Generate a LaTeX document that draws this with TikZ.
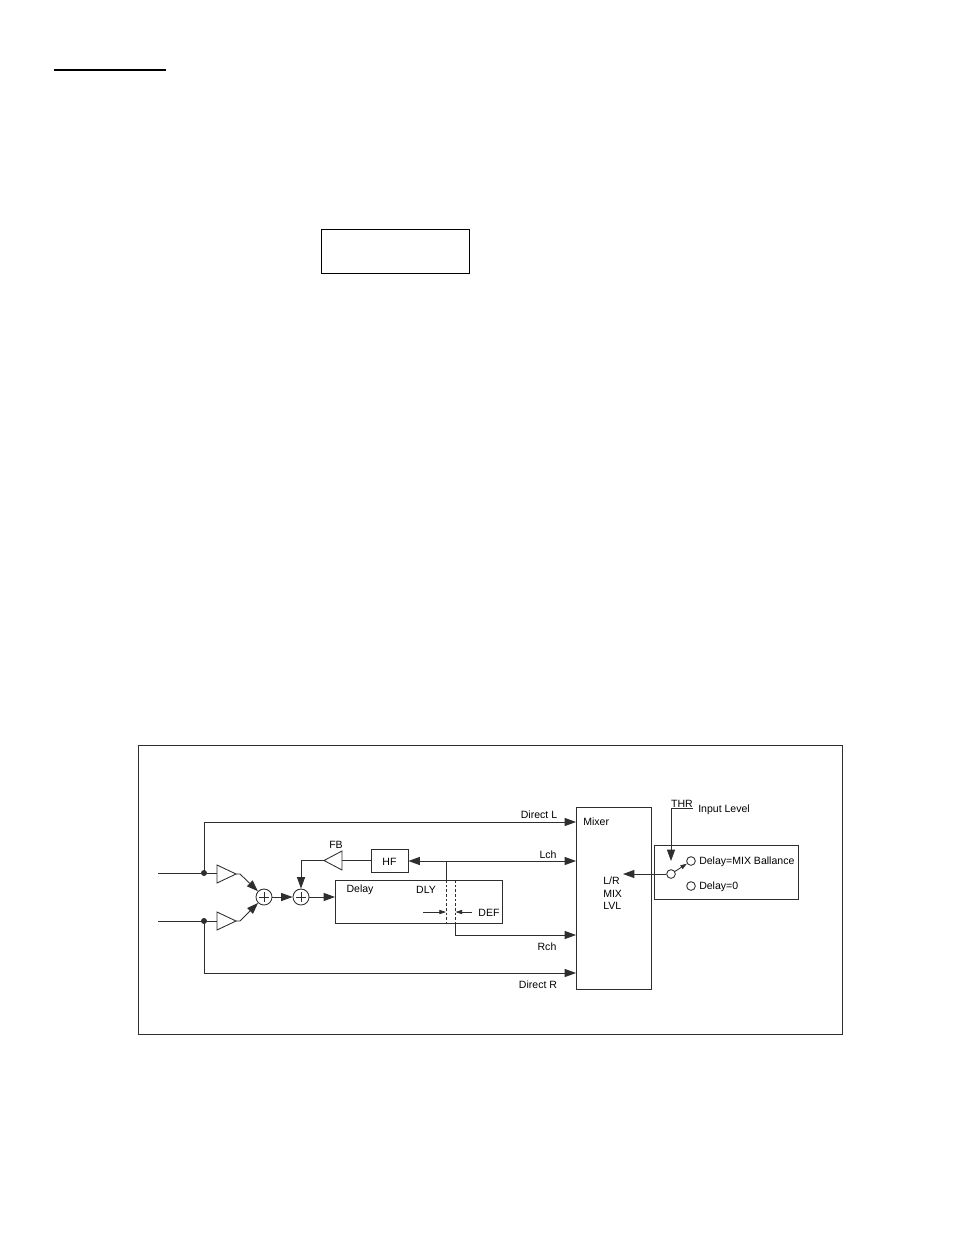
\documentclass[tikz,border=0pt]{standalone}
\usepackage{fontspec}
\setmainfont{Liberation Sans}
\usetikzlibrary{arrows.meta,shapes.geometric}
\definecolor{ink}{gray}{0.18}
\tikzset{
  x=0.75pt,y=-0.75pt,
  wire/.style={draw=ink,line width=0.65pt},
  arr/.style={wire,-{Triangle[length=8.5pt,width=6pt]}},
  sarr/.style={wire,line width=0.5pt,-{Triangle[length=5pt,width=3.2pt]}},
  box/.style={draw=ink,line width=0.65pt},
  txt/.style={font=\fontsize{7.9pt}{9.3pt}\selectfont,text=black,inner sep=0pt,yshift=-0.75pt},
  circ/.style={circle,draw=ink,line width=0.65pt,fill=white,minimum size=6.5pt,inner sep=0pt},
  sumn/.style={circle,draw=ink,line width=0.65pt,minimum size=12pt,inner sep=0pt},
  dotn/.style={circle,fill=ink,minimum size=4.5pt,inner sep=0pt},
  dashline/.style={draw=ink,line width=0.65pt,dash pattern=on 2pt off 1.5pt}
}
\begin{document}
\begin{tikzpicture}
\useasboundingbox (0,0) rectangle (954,1235);
\fill[white] (0,0) rectangle (954,1235);
% header remnants
\coordinate (ra) at (54,70); \coordinate (rb) at (166,70);
\draw[draw=black,line width=0.8pt] (ra) -- (rb);
\node[box,draw=black,minimum width=111.5pt,minimum height=33.5pt,inner sep=0pt] (blank) at (395.5,251.5) {};
% frame
\node[box,minimum width=528pt,minimum height=216.75pt,inner sep=0pt] (frame) at (490,889.5) {};
% inputs
\coordinate (inL) at (158,873); \coordinate (inR) at (158,921);
\node[dotn] (dL) at (204,873) {};
\node[dotn] (dR) at (204,921) {};
\coordinate (tLb) at (217,873); \coordinate (tLa) at (236,874);
\coordinate (tRb) at (217,921); \coordinate (tRa) at (236,921);
\coordinate (kL) at (240,874); \coordinate (kR) at (240,921);
\draw[box,fill=white] (217,865) -- (236,874) -- (217,883) -- cycle;
\draw[box,fill=white] (217,912) -- (236,921) -- (217,930) -- cycle;
\draw[wire] (inL) -- (tLb);
\draw[wire] (inR) -- (tRb);
\node[sumn] (s1) at (264,897) {};
\node[sumn] (s2) at (301,897) {};
\draw[wire,line width=0.5pt] (259,897)--(269,897) (264,892)--(264,902);
\draw[wire,line width=0.5pt] (296,897)--(306,897) (301,892)--(301,902);
\draw[arr] (tLa) -- (kL) -- (s1);
\draw[arr] (tRa) -- (kR) -- (s1);
\draw[arr] (s1) -- (s2);
% delay
\node[box,minimum width=125.25pt,minimum height=32.25pt,inner sep=0pt] (delay) at (418.5,901.5) {};
\draw[arr] (s2) -- (335,897);
\node[txt] (tdelay) at (360,889) {Delay};
\node[txt] (tdly) at (426,889) {DLY};
\node[txt] (tdef) at (489,912) {DEF};
% mixer
\node[box,minimum width=56.25pt,minimum height=136.25pt,inner sep=0pt] (mixer) at (613.5,898.5) {};
\node[txt,anchor=west] (tmixer) at (583,821) {Mixer};
\node[txt,align=left,anchor=north west] (tlr) at (603,876) {L/R\\MIX\\LVL};
% feedback path
\node[box,minimum width=27.75pt,minimum height=17.25pt,inner sep=0pt] (hf) at (389.5,860.5) {};
\node[txt] at (hf) {HF};
\draw[box] (342,851) -- (324,860.5) -- (342,870) -- cycle;
\coordinate (fbb) at (342,860.5); \coordinate (fba) at (324,860.5);
\coordinate (fbc) at (301,860.5);
\draw[wire] (hf.west) -- (fbb);
\draw[arr] (fba) -- (fbc) -- (s2);
\node[txt] (tfb) at (336,844) {FB};
% Taps
\coordinate (tapL) at (446,861); \coordinate (tapLb) at (446,880); \coordinate (tapLc) at (446,923);
\coordinate (tapRa) at (455,880); \coordinate (tapRb) at (455,923); \coordinate (tapRc) at (455,935);
\draw[arr] (tapL) -- (hf.east |- tapL);
\draw[arr] (tapL) -- (576,861);
\draw[wire] (tapL) -- (tapLb);
\draw[dashline] (tapLb) -- (tapLc);
\draw[dashline] (tapRa) -- (tapRb);
\draw[arr] (tapRb) -- (tapRc) -- (576,935);
\coordinate (a1) at (423,912); \coordinate (a2) at (446,912);
\coordinate (a3) at (472,912); \coordinate (a4) at (455.5,912);
\draw[sarr] (a1) -- (a2);
\draw[sarr] (a3) -- (a4);
% direct
\draw[arr] (dL.center) -- (204,822) -- (576,822);
\draw[arr] (dR.center) -- (204,973) -- (576,973);
\node[txt] (tdl) at (539,814) {Direct L};
\node[txt] (tlch) at (548,854) {Lch};
\node[txt] (trch) at (547,946) {Rch};
\node[txt] (tdr) at (538,984) {Direct R};
% switch box
\node[box,minimum width=108pt,minimum height=40.5pt,inner sep=0pt] (sw) at (726,872) {};
\node[circ] (c0) at (671,874) {};
\node[circ] (c1) at (691,861) {};
\node[circ] (c2) at (691,886) {};
\node[txt,anchor=west] (t1) at (699,861) {Delay=MIX Ballance};
\node[txt,anchor=west] (t2) at (699,886) {Delay=0};
\draw[sarr,line width=0.65pt] (c0) -- (c1);
\draw[arr] (c0) -- (623,874);
\coordinate (th1) at (693,808); \coordinate (th2) at (671,808); \coordinate (th3) at (671,861);
\draw[arr] (th1) -- (th2) -- (th3);
\node[txt] (tthr) at (682,803) {THR};
\node[txt,anchor=west] (til) at (698,809) {Input Level};
\end{tikzpicture}
\end{document}
